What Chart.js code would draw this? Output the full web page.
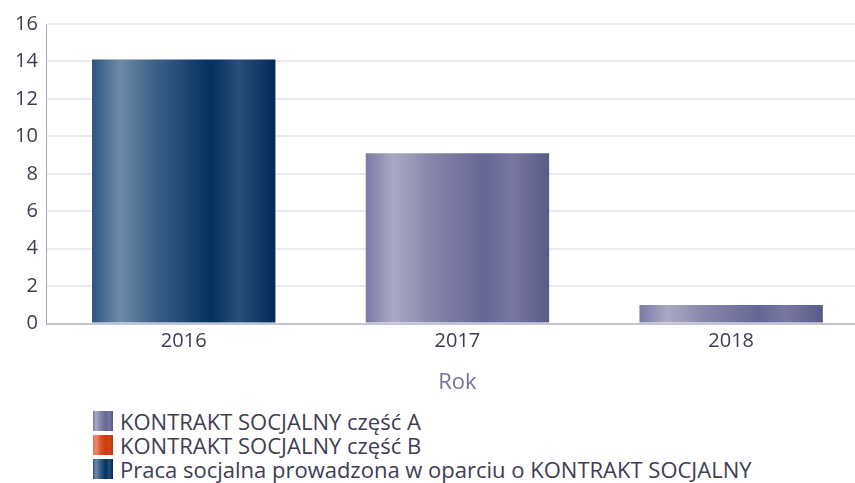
<!DOCTYPE html>
<html>
<head>
<meta charset="utf-8">
<script src="https://cdn.jsdelivr.net/npm/chart.js@4"></script>
<style>
  html, body { margin: 0; padding: 0; background: #fff; overflow: hidden; }
  #legend { position: absolute; left: 93px; top: 409px; font-family: 'Open Sans', sans-serif; font-size: 22px; color: #3d3d55; }
  .item { display: flex; align-items: center; height: 24px; white-space: nowrap; }
  .box { width: 20px; height: 20px; margin-right: 7px; flex: none; }
</style>
</head>
<body>
<canvas id="chart" width="868" height="400" style="display:block"></canvas>
<div id="legend"></div>
<script>
  const years = ['2016', '2017', '2018'];
  const seriesNames = [
    'KONTRAKT SOCJALNY część A',
    'KONTRAKT SOCJALNY część B',
    'Praca socjalna prowadzona w oparciu o KONTRAKT SOCJALNY'
  ];
  const partA = [null, 9.1, 1.0];
  const partB = [null, null, null];
  const praca = [14.1, null, null];
  const yTicks = [0, 2, 4, 6, 8, 10, 12, 14, 16];

  const gradStops = [
    [[0, '#7a7aa4'], [0.15, '#a9a9c5'], [0.35, '#8787ab'], [0.65, '#666696'], [0.8, '#7777a1'], [1, '#5a5a88']],
    [[0, '#e0714f'], [0.15, '#e88a6c'], [0.4, '#d9522a'], [0.65, '#c93a0c'], [0.8, '#d4471c'], [1, '#bf3508']],
    [[0, '#2b5580'], [0.15, '#6e8aa7'], [0.35, '#3a5f86'], [0.65, '#03305f'], [0.8, '#264e78'], [1, '#022a57']]
  ];
  const flatColors = ['#7777a1', '#d4471c', '#23497a'];
  const barPct = 0.67;

  function barGradient(ctx, idx) {
    const chart = ctx.chart;
    if (!chart.chartArea || ctx.dataIndex === undefined) return flatColors[idx];
    const xs = chart.scales.x;
    const cx = xs.getPixelForValue(ctx.dataIndex);
    const w = (xs.width / years.length) * barPct;
    const g = chart.ctx.createLinearGradient(cx - w / 2, 0, cx + w / 2, 0);
    gradStops[idx].forEach(s => g.addColorStop(s[0], s[1]));
    return g;
  }

  const datasets = [partA, partB, praca].map((data, i) => ({
    label: seriesNames[i],
    data: data,
    backgroundColor: c => barGradient(c, i),
    borderWidth: 0,
    categoryPercentage: 1,
    barPercentage: barPct
  }));

  new Chart(document.getElementById('chart'), {
    type: 'bar',
    data: { labels: years, datasets },
    options: {
      responsive: false,
      animation: false,
      devicePixelRatio: 1,
      layout: { padding: { top: 24, left: 6, right: 0, bottom: 0 } },
      plugins: { legend: { display: false }, tooltip: { enabled: false } },
      scales: {
        x: {
          stacked: true,
          grid: { display: false, drawTicks: false },
          border: { color: '#c4c4d4', width: 2 },
          ticks: { color: '#3d3d50', font: { family: 'Open Sans', size: 20 }, padding: 6 },
          title: { display: true, text: 'Rok', color: '#7373a0', font: { family: 'Open Sans', size: 22 }, padding: { top: 10 } }
        },
        y: {
          stacked: true,
          min: 0,
          max: 16,
          afterBuildTicks: s => { s.ticks = yTicks.map(v => ({ value: v })); },
          grid: { color: '#ebebf2', lineWidth: 2, drawTicks: false },
          border: { color: '#a8a8c0', width: 1 },
          ticks: { color: '#3d3d50', font: { family: 'Open Sans', size: 20 }, padding: 9 }
        }
      }
    }
  });

  const legend = document.getElementById('legend');
  seriesNames.forEach((name, i) => {
    const row = document.createElement('div');
    row.className = 'item';
    const box = document.createElement('span');
    box.className = 'box';
    box.style.background = 'linear-gradient(to right, ' + gradStops[i].map(s => s[1] + ' ' + (s[0] * 100) + '%').join(', ') + ')';
    const txt = document.createElement('span');
    txt.textContent = name;
    row.appendChild(box);
    row.appendChild(txt);
    legend.appendChild(row);
  });
</script>
</body>
</html>
